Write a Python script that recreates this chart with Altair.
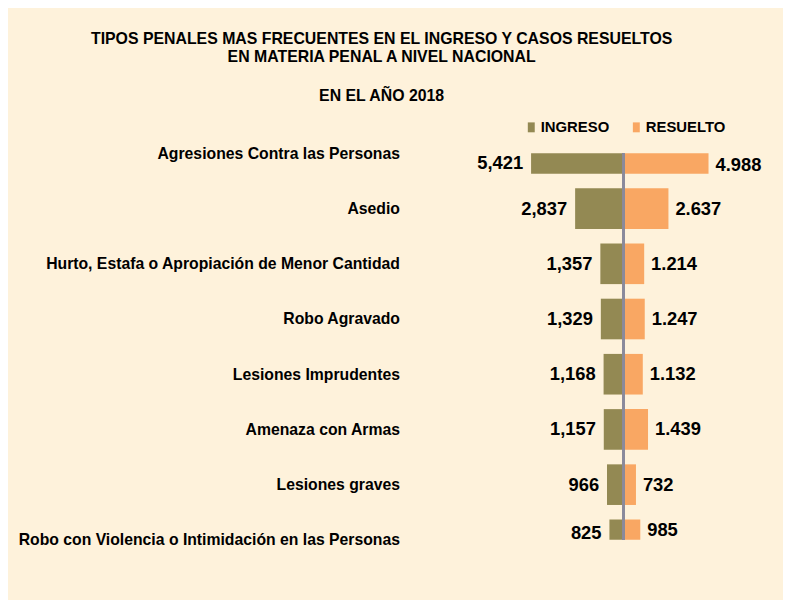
import altair as alt
import pandas as pd

categories = [
    "Agresiones Contra las Personas",
    "Asedio",
    "Hurto, Estafa o Apropiación de Menor Cantidad",
    "Robo Agravado",
    "Lesiones Imprudentes",
    "Amenaza con Armas",
    "Lesiones graves",
    "Robo con Violencia o Intimidación en las Personas",
]
ingreso = [5421, 2837, 1357, 1329, 1168, 1157, 966, 825]
resuelto = [4988, 2637, 1214, 1247, 1132, 1439, 732, 985]
series = ["INGRESO", "RESUELTO"]
colors = ["#938953", "#F9A763"]

rows = []
for c, a, b in zip(categories, ingreso, resuelto):
    rows.append({"cat": c, "serie": series[0], "valor": a})
    rows.append({"cat": c, "serie": series[1], "valor": b})
df = pd.DataFrame(rows)

FONT = "Liberation Sans"
PW, PH = 370, 390

xscale = alt.Scale(domain=[-12560, 8950], nice=False, zero=False)
yscale = alt.Scale(type="point", padding=0, domain=categories)

base = alt.Chart(df).transform_calculate(
    signed="datum.serie == 'INGRESO' ? -datum.valor : datum.valor",
    etiqueta="datum.serie == 'INGRESO' ? format(datum.valor, ',') : replace(format(datum.valor, ','), ',', '.')",
)

bars = base.mark_bar(size=41, clip=True).encode(
    x=alt.X("signed:Q", scale=xscale, axis=None),
    y=alt.Y(
        "cat:N",
        scale=yscale,
        axis=alt.Axis(
            title=None, domain=False, ticks=False, grid=False,
            labelFont=FONT, labelFontWeight="bold", labelFontSize=15.9,
            labelColor="black", labelPadding=10, labelLimit=420,
            labelAlign="right", labelBaseline="middle",
        ),
    ),
    color=alt.Color(
        "serie:N",
        scale=alt.Scale(domain=series, range=colors),
        legend=alt.Legend(
            title=None, orient="none", legendX=115.5, legendY=-34,
            direction="horizontal", symbolType="M-0.7,-1H0.7V1H-0.7Z",
            symbolSize=100, symbolStrokeWidth=0, labelFont=FONT,
            labelFontWeight="bold", labelFontSize=15, labelColor="black",
            labelOffset=2, columnPadding=19, padding=0,
        ),
    ),
)

rule = alt.Chart(df).mark_rule(color="#8A8A9C", strokeWidth=1.5).encode(
    x=alt.datum(0, scale=xscale)
)


def labels(serie, align, dx, cond, dy):
    return base.transform_filter(
        f"datum.serie == '{serie}' && {cond}"
    ).mark_text(
        align=align, baseline="middle", dx=dx, dy=dy, font=FONT,
        fontWeight="bold", fontSize=18.5, color="black",
    ).encode(
        x=alt.X("signed:Q", scale=xscale),
        y=alt.Y("cat:N", scale=yscale),
        text="etiqueta:N",
    )


first = f"datum.cat == '{categories[0]}'"
last = f"datum.cat == '{categories[-1]}'"
mid = f"datum.cat != '{categories[0]}' && datum.cat != '{categories[-1]}'"

text_layers = [
    labels("INGRESO", "right", -8, first, 10),
    labels("INGRESO", "right", -8, mid, 0),
    labels("INGRESO", "right", -8, last, -7),
    labels("RESUELTO", "left", 7, first, 12),
    labels("RESUELTO", "left", 7, mid, 0),
    labels("RESUELTO", "left", 7, last, -10),
]

chart = alt.layer(bars, rule, *text_layers).properties(
    width=PW,
    height=PH,
    autosize=alt.AutoSizeParams(type="none"),
    padding={"left": 405, "top": 144, "right": 7, "bottom": 58},
    title=alt.TitleParams(
        text=[
            "TIPOS PENALES MAS FRECUENTES EN EL INGRESO Y CASOS RESUELTOS",
            "EN MATERIA PENAL A NIVEL NACIONAL",
        ],
        subtitle="EN EL AÑO 2018",
        anchor="middle", dx=-213, font=FONT, fontSize=16, fontWeight="bold",
        color="black", lineHeight=18.3, subtitleFont=FONT,
        subtitleFontSize=16, subtitleFontWeight="bold", subtitleColor="black",
        subtitlePadding=24, offset=15.5,
    ),
).configure(background="#FEF2DB").configure_view(strokeWidth=0)

chart.save("out.html", embed_options={"renderer": "svg", "actions": False})
